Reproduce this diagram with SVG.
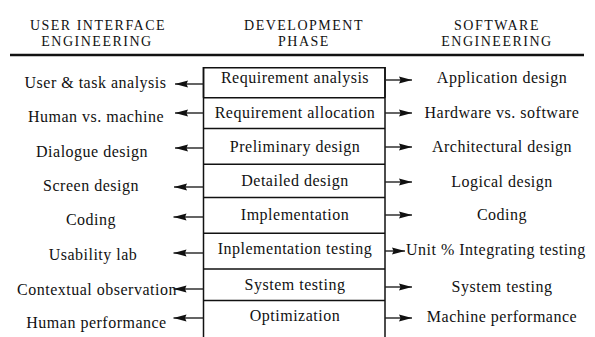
<svg xmlns="http://www.w3.org/2000/svg" width="595" height="337" viewBox="0 0 595 337">
<style>
text{font-family:"Liberation Serif","Times New Roman",serif;font-size:16px;letter-spacing:0.5px;fill:#111}
.c{text-anchor:middle}
.h{font-size:14px;letter-spacing:1.5px}
.box{fill:none;stroke:#111;stroke-width:1.5}
.ar{stroke:#222;stroke-width:1.4;marker-end:url(#ah)}
</style>
<defs>
<marker id="ah" markerUnits="userSpaceOnUse" markerWidth="14" markerHeight="8" refX="13" refY="4" orient="auto">
<path d="M0,0.5 L13,4 L0,7.5 L1.5,4 z" fill="#111"/>
</marker>
<clipPath id="clipR"><rect x="0" y="0" width="586" height="337"/></clipPath>
</defs>
<rect width="595" height="337" fill="#fff"/>
<g id="headers">
<text class="c h" x="98" y="29.5">USER INTERFACE</text>
<text class="c h" x="97" y="46">ENGINEERING</text>
<text class="c h" x="304" y="29.5">DEVELOPMENT</text>
<text class="c h" x="304" y="46">PHASE</text>
<text class="c h" x="497" y="29.5">SOFTWARE</text>
<text class="c h" x="497" y="46">ENGINEERING</text>
<line x1="10" y1="55" x2="584" y2="55" stroke="#111" stroke-width="2.5"/>
</g>
<g id="phases">
<g id="phase-1"><path class="box" d="M203.5,97.7 V67.7 H385 V97.7"/><text class="c" x="295" y="83">Requirement analysis</text></g>
<g id="phase-2"><line class="box" x1="203.5" y1="97.7" x2="385" y2="97.7"/><text class="c" x="295" y="117.5">Requirement allocation</text></g>
<g id="phase-3"><line class="box" x1="203.5" y1="128.5" x2="385" y2="128.5" stroke-width="2"/><text class="c" x="295" y="151.5">Preliminary design</text></g>
<g id="phase-4"><line class="box" x1="203.5" y1="164.3" x2="385" y2="164.3" stroke-width="2"/><text class="c" x="295" y="185.5">Detailed design</text></g>
<g id="phase-5"><line class="box" x1="203.5" y1="197.5" x2="385" y2="197.5" stroke-width="2"/><text class="c" x="295" y="220">Implementation</text></g>
<g id="phase-6"><line class="box" x1="203.5" y1="233.3" x2="385" y2="233.3" stroke-width="2"/><text class="c" x="295" y="254">Inplementation testing</text></g>
<g id="phase-7"><line class="box" x1="203.5" y1="269" x2="385" y2="269" stroke-width="2"/><text class="c" x="295" y="290">System testing</text></g>
<g id="phase-8"><line class="box" x1="203.5" y1="300.5" x2="385" y2="300.5" stroke="#555" stroke-width="1.2"/><text class="c" x="295" y="321">Optimization</text></g>
<line class="box" x1="203.5" y1="67" x2="203.5" y2="337"/>
<line class="box" x1="385" y1="67" x2="385" y2="337"/>
</g>
<g id="ui-items">
<text id="ui-1" class="c" x="95.5" y="88">User &amp; task analysis</text>
<text id="ui-2" class="c" x="96" y="121.5">Human vs. machine</text>
<text id="ui-3" class="c" x="92" y="156.5">Dialogue design</text>
<text id="ui-4" class="c" x="91" y="191">Screen design</text>
<text id="ui-5" class="c" x="91" y="225">Coding</text>
<text id="ui-6" class="c" x="93" y="260">Usability lab</text>
<text id="ui-7" class="c" x="97" y="295">Contextual observation</text>
<text id="ui-8" class="c" x="96.5" y="328">Human performance</text>
</g>
<g id="sw-items">
<text id="sw-1" class="c" x="502" y="83">Application design</text>
<text id="sw-2" class="c" x="502" y="118">Hardware vs. software</text>
<text id="sw-3" class="c" x="502" y="151.5">Architectural design</text>
<text id="sw-4" class="c" x="502" y="186.5">Logical design</text>
<text id="sw-5" class="c" x="502" y="220">Coding</text>
<text id="sw-6" x="406" y="255" clip-path="url(#clipR)">Unit % Integrating testing</text>
<text id="sw-7" class="c" x="502" y="291.5">System testing</text>
<text id="sw-8" class="c" x="502" y="321.5">Machine performance</text>
</g>
<g id="connectors">
<line class="ar" x1="203.5" y1="84" x2="175" y2="84"/>
<line class="ar" x1="203.5" y1="113" x2="175" y2="113"/>
<line class="ar" x1="203.5" y1="148" x2="175" y2="148"/>
<line class="ar" x1="203.5" y1="187" x2="174" y2="187"/>
<line class="ar" x1="203.5" y1="217" x2="173.5" y2="217"/>
<line class="ar" x1="203.5" y1="253" x2="173.5" y2="253" stroke="#666"/>
<line class="ar" x1="203.5" y1="289" x2="173.5" y2="289"/>
<line class="ar" x1="203.5" y1="318" x2="173.5" y2="318"/>
<line class="ar" x1="385" y1="80" x2="412" y2="80"/>
<line class="ar" x1="385" y1="113" x2="412" y2="113"/>
<line class="ar" x1="385" y1="147" x2="412" y2="147"/>
<line class="ar" x1="385" y1="182" x2="412" y2="182"/>
<line class="ar" x1="385" y1="215" x2="412" y2="215"/>
<line class="ar" x1="385" y1="251" x2="405" y2="251"/>
<line class="ar" x1="385" y1="287" x2="412" y2="287"/>
<line class="ar" x1="385" y1="318" x2="412" y2="318"/>
</g>
</svg>
